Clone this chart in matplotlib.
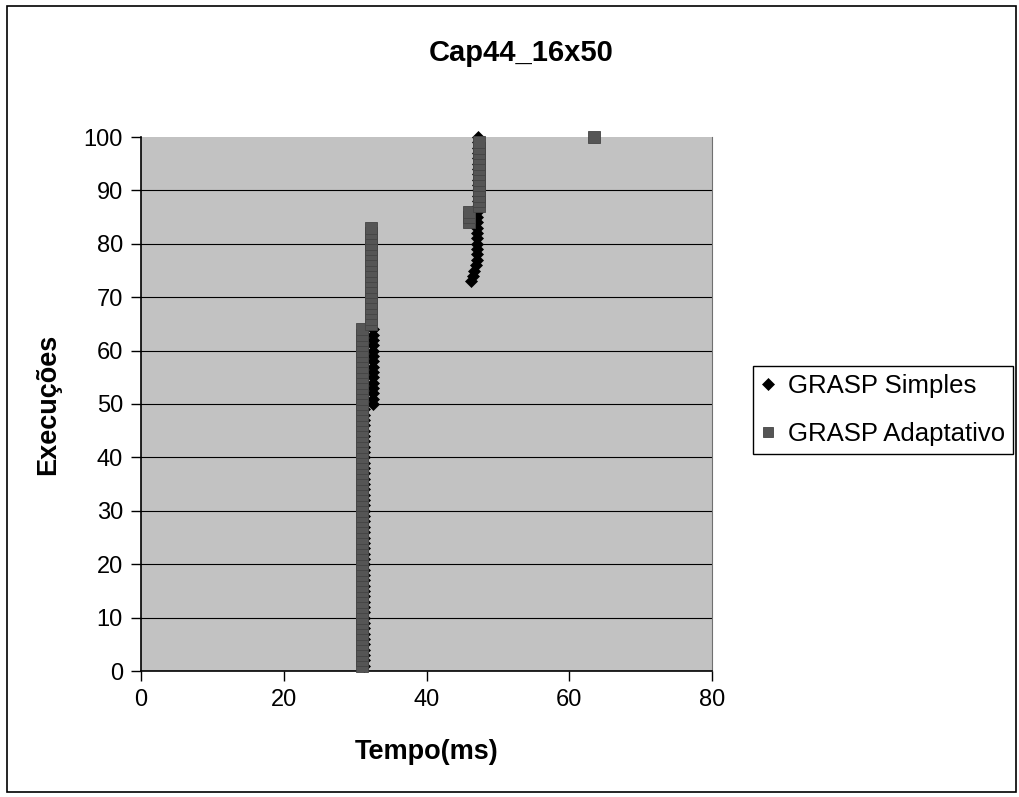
import matplotlib
matplotlib.use("Agg")
import matplotlib.pyplot as plt
from matplotlib.patches import Rectangle

plt.rcParams["font.family"] = ["Liberation Sans", "DejaVu Sans"]

# Execution index (cumulative count of runs) and the time each run took
runs = list(range(1, 101))

tempo_simples = (
    [31.3] * 49 +                      # runs 1-49
    [32.5] * 15 +                      # runs 50-64
    [32.2] * 8 +                       # runs 65-72
    [46.3, 46.5, 46.7, 46.9] +         # runs 73-76
    [47.1] * 10 + [47.2] * 14          # runs 77-100
)

tempo_adaptativo = (
    [30.9] * 64 +                      # runs 1-64
    [32.2] * 19 +                      # runs 65-83
    [46.0] * 3 +                       # runs 84-86
    [47.3] * 13 +                      # runs 87-99
    [63.4]                             # run 100
)

series_names = ["GRASP Simples", "GRASP Adaptativo"]
x_ticks = [0, 20, 40, 60, 80]
y_ticks = list(range(0, 101, 10))

W, H = 1020, 797
fig = plt.figure(figsize=(W / 100, H / 100), dpi=100)
fig.patch.set_facecolor("white")

ax = fig.add_axes([141 / W, 1 - 671 / H, (712 - 141) / W, (671 - 137) / H])
ax.set_facecolor("#c2c2c2")

ax.plot(tempo_simples, runs, linestyle="none", marker="D", ms=6.3,
        color="black", markeredgewidth=0.5, label=series_names[0],
        clip_on=False, zorder=3)
ax.plot(tempo_adaptativo, runs, linestyle="none", marker="s", ms=8.3,
        color="#555555", markeredgecolor="#444444", markeredgewidth=0.6,
        label=series_names[1], clip_on=False, zorder=4)

ax.set_xlim(0, 80)
ax.set_ylim(0, 100)
ax.set_xticks(x_ticks)
ax.set_yticks(y_ticks)
ax.tick_params(axis="both", labelsize=17, direction="out", length=7,
               width=1, color="black", pad=6)

ax.yaxis.grid(True, color="black", linewidth=0.8)
ax.set_axisbelow(True)
for gl in ax.yaxis.get_gridlines()[-1:]:
    gl.set_visible(False)

ax.spines["left"].set_color("black")
ax.spines["bottom"].set_color("black")
ax.spines["left"].set_linewidth(1.2)
ax.spines["bottom"].set_linewidth(1.2)
ax.spines["right"].set_color("#707070")
ax.spines["top"].set_visible(False)

ax.set_xlabel("Tempo(ms)", fontsize=19.5, fontweight="bold", labelpad=20)
ax.set_ylabel("Execuções", fontsize=19.5, fontweight="bold", labelpad=16)

fig.text(521 / W, 1 - 61 / H, "Cap44_16x50", fontsize=21, fontweight="bold",
         ha="center", va="baseline")

leg = ax.legend(loc="center left", bbox_to_anchor=(753 / W, 1 - 410 / H),
                bbox_transform=fig.transFigure, fontsize=18.5, frameon=True,
                fancybox=False, edgecolor="black", framealpha=1,
                handlelength=0.6, handletextpad=0.45, borderpad=0.3,
                labelspacing=0.95, borderaxespad=0, markerscale=0.9)
leg.get_frame().set_linewidth(1.0)

# Chart area border
fig.patches.append(Rectangle((7 / W, 5 / H), (1016 - 7) / W, (791 - 5) / H,
                             transform=fig.transFigure, fill=False,
                             edgecolor="black", linewidth=1.2))

fig.savefig("out.png", dpi=100, facecolor="white")
